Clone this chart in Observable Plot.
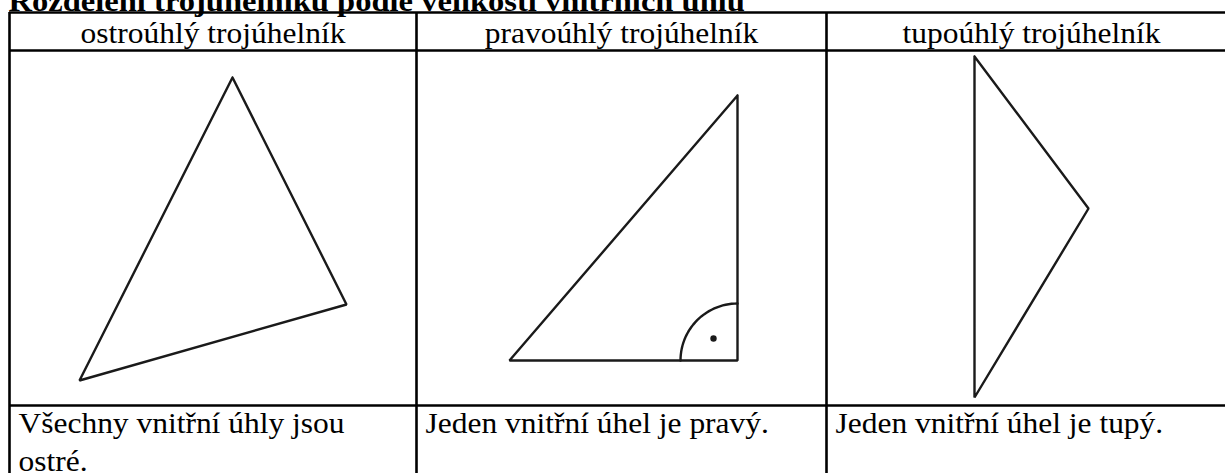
<!DOCTYPE html>
<html>
<head>
<meta charset="utf-8">
<script src="https://cdn.jsdelivr.net/npm/d3@7"></script>
<script src="https://cdn.jsdelivr.net/npm/@observablehq/plot@0.6"></script>
<style>
  html, body { margin: 0; padding: 0; background: #fff; overflow: hidden; }
</style>
</head>
<body>
<div id="chart"></div>
<script>
const title = "Rozdělení trojúhelníků podle velikosti vnitřních úhlů";
const headers = ["ostroúhlý trojúhelník", "pravoúhlý trojúhelník", "tupoúhlý trojúhelník"];
const descriptions = [
  ["Všechny vnitřní úhly jsou", "ostré."],
  ["Jeden vnitřní úhel je pravý."],
  ["Jeden vnitřní úhel je tupý."]
];
const columnEdges = [9, 416, 826, 1236];
const rowEdges = [12, 50, 405, 490];

const acuteX = [232, 346, 79];
const acuteY = [77, 304, 380];
const rightX = [737, 737, 509];
const rightY = [95, 360, 360];
const obtuseX = [974, 1088, 974];
const obtuseY = [56, 208, 397];

const rightAngleCenter = [737, 360];
const rightAngleRadius = 57;
const rightAngleDot = [713, 338];

// build
const tri = (xs, ys, id) => [...xs, xs[0]].map((x, i) => ({x, y: [...ys, ys[0]][i], id}));
const triangles = [...tri(acuteX, acuteY, "a"), ...tri(rightX, rightY, "r"), ...tri(obtuseX, obtuseY, "o")];

const arcPts = d3.range(0, 91, 3).map(a => {
  const t = (180 + a) * Math.PI / 180;
  return {x: rightAngleCenter[0] + rightAngleRadius * Math.cos(t), y: rightAngleCenter[1] + rightAngleRadius * Math.sin(t)};
});

const hRules = rowEdges.map(y => ({y, x1: columnEdges[0], x2: columnEdges[columnEdges.length - 1]}));
const vRules = columnEdges.map(x => ({x, y1: rowEdges[0], y2: rowEdges[rowEdges.length - 1]}));

const headerData = headers.map((h, i) => ({text: h, x: (columnEdges[i] + columnEdges[i + 1]) / 2, y: 42.5}));
const descData = descriptions.flatMap((lines, i) => lines.map((t, j) => ({text: t, x: columnEdges[i] + 9, y: 432 + j * 38})));

const font = "'Liberation Serif', 'Times New Roman', serif";

const chart = Plot.plot({
  width: 1225,
  height: 473,
  margin: 0,
  style: {background: "#fff"},
  x: {domain: [0, 1225], range: [0, 1225], axis: null},
  y: {domain: [0, 473], range: [0, 473], axis: null},
  marks: [
    Plot.ruleY(hRules, {y: "y", x1: "x1", x2: "x2", stroke: "#000", strokeWidth: 2.6}),
    Plot.ruleX(vRules, {x: "x", y1: "y1", y2: "y2", stroke: "#000", strokeWidth: 2.6}),
    Plot.line(triangles, {x: "x", y: "y", z: "id", stroke: "#1a1a1a", strokeWidth: 2.4, strokeLinejoin: "miter", curve: "linear"}),
    Plot.line(arcPts, {x: "x", y: "y", stroke: "#1a1a1a", strokeWidth: 2.4}),
    Plot.dot([rightAngleDot], {x: d => d[0], y: d => d[1], r: 3.2, fill: "#1a1a1a", stroke: null}),
    Plot.text([title], {x: 8, y: 10, text: d => d, textAnchor: "start", fontSize: 30, fontWeight: "bold", fontFamily: font, fill: "#000"}),
    Plot.text(headerData, {x: "x", y: "y", text: "text", textAnchor: "middle", fontSize: 29, fontFamily: font, fill: "#000"}),
    Plot.text(descData, {x: "x", y: "y", text: "text", textAnchor: "start", fontSize: 29, fontFamily: font, fill: "#000"})
  ]
});
document.getElementById("chart").appendChild(chart);
// alphabetic baselines at y, and slightly wide glyphs as in the reference
const sx = 1.085;
d3.select(chart).selectAll("text").each(function () {
  const t = d3.select(this);
  t.attr("dy", null).attr("y", null);
  const L = this.getComputedTextLength();
  t.attr("textLength", L * sx).attr("lengthAdjust", "spacingAndGlyphs");
});
</script>
</body>
</html>
